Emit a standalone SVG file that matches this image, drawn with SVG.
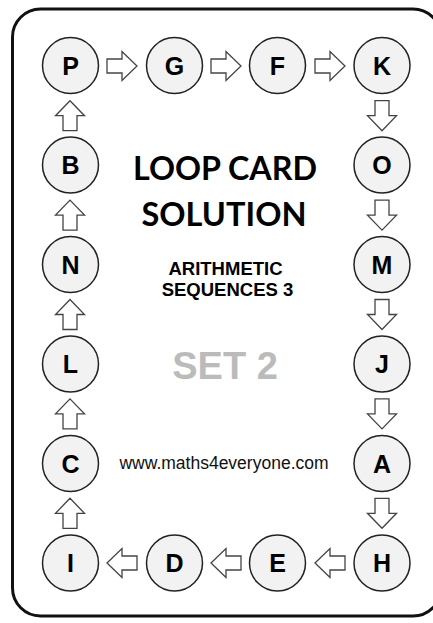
<svg xmlns="http://www.w3.org/2000/svg" width="433" height="623" viewBox="0 0 433 623">
<defs>
<style>
.card{fill:#fff;stroke:#111;stroke-width:3}
.node circle{fill:#f2f2f2;stroke:#222;stroke-width:1.5}
.node text{font-family:"Liberation Sans",Arial,sans-serif;font-weight:bold;font-size:25px;fill:#000;text-anchor:middle}
.arr{fill:#fff;stroke:#444;stroke-width:1.3;stroke-linejoin:miter}
.title{font-family:Lato,"Liberation Sans",sans-serif;font-weight:bold;font-size:33px;fill:#000;text-anchor:middle}
.sub{font-family:"Liberation Sans",Arial,sans-serif;font-weight:bold;font-size:18.5px;fill:#000;text-anchor:middle}
.set{font-family:"Liberation Sans",Arial,sans-serif;font-weight:bold;font-size:38px;fill:#bbb;text-anchor:middle}
.url{font-family:"Liberation Sans",Arial,sans-serif;font-size:17.5px;fill:#111;text-anchor:middle}
</style>
<path id="ar" d="M-15,-7 H0 V-14.5 L15,0 L0,14.5 V7 H-15 Z"/>
</defs>
<rect class="card" x="12.5" y="9" width="428.5" height="607" rx="28" ry="28"/>
<g id="connectors">
<use href="#ar" class="arr" transform="translate(122,66)"/>
<use href="#ar" class="arr" transform="translate(226,66)"/>
<use href="#ar" class="arr" transform="translate(330,66)"/>
<use href="#ar" class="arr" transform="translate(382,115.7) rotate(90)"/>
<use href="#ar" class="arr" transform="translate(382,215.1) rotate(90)"/>
<use href="#ar" class="arr" transform="translate(382,314.5) rotate(90)"/>
<use href="#ar" class="arr" transform="translate(382,413.9) rotate(90)"/>
<use href="#ar" class="arr" transform="translate(382,513.3) rotate(90)"/>
<use href="#ar" class="arr" transform="translate(330,563) rotate(180)"/>
<use href="#ar" class="arr" transform="translate(226,563) rotate(180)"/>
<use href="#ar" class="arr" transform="translate(122,563) rotate(180)"/>
<use href="#ar" class="arr" transform="translate(70,513.3) rotate(-90)"/>
<use href="#ar" class="arr" transform="translate(70,413.9) rotate(-90)"/>
<use href="#ar" class="arr" transform="translate(70,314.5) rotate(-90)"/>
<use href="#ar" class="arr" transform="translate(70,215.1) rotate(-90)"/>
<use href="#ar" class="arr" transform="translate(70,115.7) rotate(-90)"/>
</g>
<g id="node-P" class="node"><circle cx="70.5" cy="65.5" r="28"/><text x="70.5" y="74.5">P</text></g>
<g id="node-G" class="node"><circle cx="174.5" cy="65.5" r="28"/><text x="174.5" y="74.5">G</text></g>
<g id="node-F" class="node"><circle cx="277.5" cy="65.5" r="28"/><text x="277.5" y="74.5">F</text></g>
<g id="node-K" class="node"><circle cx="382" cy="65.5" r="28"/><text x="382" y="74.5">K</text></g>
<g id="node-O" class="node"><circle cx="382" cy="165" r="28"/><text x="382" y="174">O</text></g>
<g id="node-M" class="node"><circle cx="382" cy="264.5" r="28"/><text x="382" y="273.5">M</text></g>
<g id="node-J" class="node"><circle cx="382" cy="364" r="28"/><text x="382" y="373">J</text></g>
<g id="node-A" class="node"><circle cx="382" cy="463.5" r="28"/><text x="382" y="472.5">A</text></g>
<g id="node-H" class="node"><circle cx="382" cy="563" r="28"/><text x="382" y="572">H</text></g>
<g id="node-E" class="node"><circle cx="277.5" cy="563" r="28"/><text x="277.5" y="572">E</text></g>
<g id="node-D" class="node"><circle cx="174.5" cy="563" r="28"/><text x="174.5" y="572">D</text></g>
<g id="node-I" class="node"><circle cx="70.5" cy="563" r="28"/><text x="70.5" y="572">I</text></g>
<g id="node-C" class="node"><circle cx="70.5" cy="463.5" r="28"/><text x="70.5" y="472.5">C</text></g>
<g id="node-L" class="node"><circle cx="70.5" cy="364" r="28"/><text x="70.5" y="373">L</text></g>
<g id="node-N" class="node"><circle cx="70.5" cy="264.5" r="28"/><text x="70.5" y="273.5">N</text></g>
<g id="node-B" class="node"><circle cx="70.5" cy="165" r="28"/><text x="70.5" y="174">B</text></g>
<g id="labels">
<text class="title" x="225" y="180" textLength="184" lengthAdjust="spacingAndGlyphs">LOOP CARD</text>
<text class="title" x="224" y="226" textLength="165" lengthAdjust="spacingAndGlyphs">SOLUTION</text>
<text class="sub" x="225.5" y="275">ARITHMETIC</text>
<text class="sub" x="227.5" y="296">SEQUENCES 3</text>
<text class="set" x="225" y="379">SET 2</text>
<text class="url" x="224" y="469">www.maths4everyone.com</text>
</g>
</svg>
